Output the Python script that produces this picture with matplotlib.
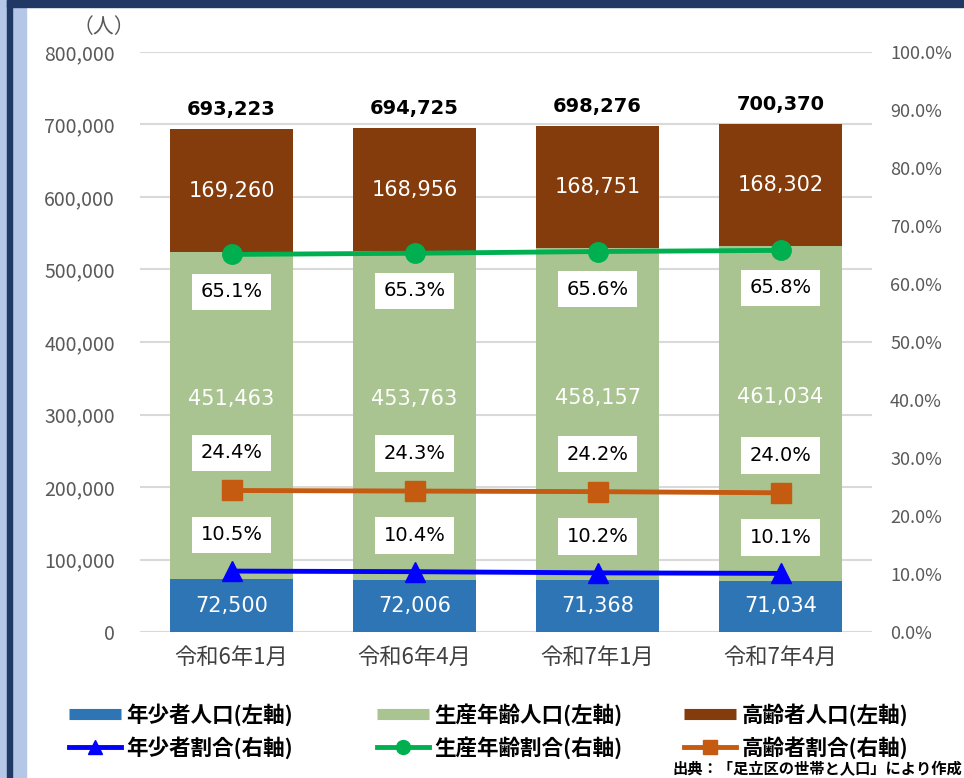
import matplotlib.pyplot as plt
from matplotlib.lines import Line2D
from matplotlib.patches import Rectangle
from matplotlib.ticker import FuncFormatter, MultipleLocator
import numpy as np

plt.rcParams['font.family'] = ['Noto Sans CJK JP', 'DejaVu Sans']

months = ["令和6年1月", "令和6年4月", "令和7年1月", "令和7年4月"]
young = [72500, 72006, 71368, 71034]
working = [451463, 453763, 458157, 461034]
elderly = [169260, 168956, 168751, 168302]
totals = [693223, 694725, 698276, 700370]
young_pct = [10.5, 10.4, 10.2, 10.1]
working_pct = [65.1, 65.3, 65.6, 65.8]
elderly_pct = [24.4, 24.3, 24.2, 24.0]

c_young = '#2E75B6'
c_work = '#A9C490'
c_old = '#843C0C'
c_young_l = '#0000FF'
c_work_l = '#00B050'
c_old_l = '#C55A11'
grey = '#595959'

fig = plt.figure(figsize=(9.64, 7.78), dpi=100)
ax = fig.add_axes([140/964, 1-632/778, 732/964, 580/778])
ax2 = ax.twinx()

x = np.arange(len(months))
w = 0.667
ax.bar(x, young, w, color=c_young, zorder=2)
ax.bar(x, working, w, bottom=young, color=c_work, zorder=2)
bot2 = np.array(young) + np.array(working)
ax.bar(x, elderly, w, bottom=bot2, color=c_old, zorder=2)

ax.set_ylim(0, 800000)
ax.set_xlim(-0.5, 3.5)
ax.yaxis.set_major_locator(MultipleLocator(100000))
ax.yaxis.set_major_formatter(FuncFormatter(lambda v, p: f"{int(v):,}"))
ax.grid(axis='y', color='#D9D9D9', lw=1.5, zorder=0)
ax.set_axisbelow(True)
for s in ax.spines.values():
    s.set_visible(False)
for s in ax2.spines.values():
    s.set_visible(False)
ax.tick_params(axis='y', length=0, pad=18, labelsize=14, labelcolor=grey)
ax.tick_params(axis='x', length=0, pad=10, labelsize=16, labelcolor='#404040')
ax.set_xticks(x)
ax.set_xticklabels(months)

# value labels on bars
for i in range(4):
    ax.text(x[i], young[i]/2, f"{young[i]:,}", ha='center', va='center',
            color='white', fontsize=15, family='DejaVu Sans', zorder=5)
    ax.annotate(f"{working[i]:,}", (x[i], young[i] + working[i]/2), xytext=(0, 12),
                textcoords='offset points', ha='center', va='center',
                color='white', fontsize=15, family='DejaVu Sans', zorder=5)
    ax.text(x[i], bot2[i] + elderly[i]/2, f"{elderly[i]:,}", ha='center', va='center',
            color='white', fontsize=15, family='DejaVu Sans', zorder=5)
    ax.annotate(f"{totals[i]:,}", (x[i], totals[i]), xytext=(0, 14),
                textcoords='offset points', ha='center', va='center',
                color='black', fontsize=14, fontweight='bold', family='DejaVu Sans')

ax2.set_ylim(0, 100)
ax2.yaxis.set_major_locator(MultipleLocator(10))
ax2.yaxis.set_major_formatter(FuncFormatter(lambda v, p: f"{v:.1f}%"))
ax2.tick_params(axis='y', length=0, pad=13, labelsize=13, labelcolor=grey)

ax2.plot(x, working_pct, color=c_work_l, lw=3.5, marker='o', ms=14, zorder=3)
ax2.plot(x, elderly_pct, color=c_old_l, lw=3.5, marker='s', ms=14, zorder=3)
ax2.plot(x, young_pct, color=c_young_l, lw=3.5, marker='^', ms=15, zorder=3)

box = dict(boxstyle='square,pad=0.45', fc='white', ec='none')
for i in range(4):
    ax2.annotate(f"{working_pct[i]:.1f}%", (x[i], working_pct[i]), xytext=(0, -27),
                 textcoords='offset points', ha='center', va='center', fontsize=14,
                 family='DejaVu Sans', bbox=box)
    ax2.annotate(f"{elderly_pct[i]:.1f}%", (x[i], elderly_pct[i]), xytext=(0, 27),
                 textcoords='offset points', ha='center', va='center', fontsize=14,
                 family='DejaVu Sans', bbox=box)
    ax2.annotate(f"{young_pct[i]:.1f}%", (x[i], young_pct[i]), xytext=(0, 26),
                 textcoords='offset points', ha='center', va='center', fontsize=14,
                 family='DejaVu Sans', bbox=box)

fig.text(104/964, 1-27/778, "（人）", ha='center', va='center', fontsize=15, color=grey)

# legend, one per column
cols = [
    (70, Line2D([], [], color=c_young, lw=8, solid_capstyle='butt'), "年少者人口(左軸)",
     Line2D([], [], color=c_young_l, lw=3.5, marker='^', ms=10), "年少者割合(右軸)"),
    (378, Line2D([], [], color=c_work, lw=8, solid_capstyle='butt'), "生産年齢人口(左軸)",
     Line2D([], [], color=c_work_l, lw=3.5, marker='o', ms=10), "生産年齢割合(右軸)"),
    (685, Line2D([], [], color=c_old, lw=8, solid_capstyle='butt'), "高齢者人口(左軸)",
     Line2D([], [], color=c_old_l, lw=3.5, marker='s', ms=10), "高齢者割合(右軸)"),
]
for xpix, h1, l1, h2, l2 in cols:
    fig.legend([h1, h2], [l1, l2], loc='center left',
               bbox_to_anchor=(xpix/964 - 0.012, 1-731/778), frameon=False,
               prop={'size': 15.5, 'weight': 'bold'}, handlelength=2.4,
               handletextpad=0.25, labelspacing=0.45, borderpad=0)

fig.text(672/964, 1-769/778, "出典：「足立区の世帯と人口」により作成", ha='left', va='center',
         fontsize=11, fontweight='bold', color='black')

# frame decoration
fig.patches.append(Rectangle((0, 0), 26/964, 1, transform=fig.transFigure,
                             color='#B4C7E7', zorder=-1))
fig.patches.append(Rectangle((7/964, 0), 5/964, 1, transform=fig.transFigure,
                             color='#1F3864', zorder=-1))
fig.patches.append(Rectangle((7/964, 1-7/778), 1, 7/778, transform=fig.transFigure,
                             color='#1F3864', zorder=-1))

fig.savefig('out.png', dpi=100)
